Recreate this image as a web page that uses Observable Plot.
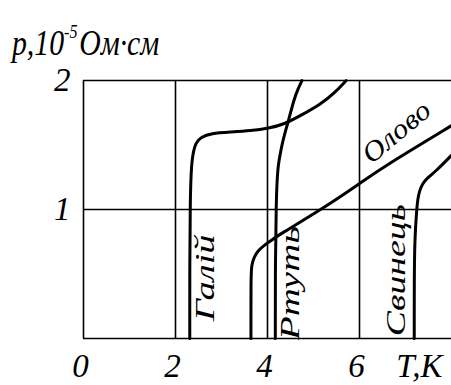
<!DOCTYPE html>
<html><head><meta charset="utf-8">
<script src="https://cdn.jsdelivr.net/npm/d3@7"></script>
<script src="https://cdn.jsdelivr.net/npm/@observablehq/plot@0.6"></script>
<style>body{margin:0;background:#fff} svg{display:block}</style>
</head><body><div id="chart"></div>
<script>
// Resistivity (10^-5 Ohm·cm) vs temperature (K)
const galliumT = [2.31, 2.31, 2.32, 2.34, 2.37, 2.44, 2.55, 2.77, 3.20, 3.64, 4.03, 4.36, 4.73, 5.17, 5.45, 5.71];
const galliumR = [0, 0.60, 1.07, 1.30, 1.42, 1.52, 1.56, 1.59, 1.60, 1.61, 1.63, 1.66, 1.73, 1.82, 1.90, 2.0];
const mercuryT = [4.17, 4.17, 4.19, 4.21, 4.23, 4.29, 4.36, 4.45, 4.58, 4.67, 4.75];
const mercuryR = [0, 0.60, 1.07, 1.23, 1.34, 1.46, 1.57, 1.68, 1.86, 1.94, 2.0];
const tinT = [3.64, 3.64, 3.65, 3.71, 3.79, 3.92, 4.08, 4.23, 5.17, 6.00, 6.47, 8.0];
const tinR = [0, 0.45, 0.57, 0.63, 0.68, 0.72, 0.76, 0.80, 1.00, 1.20, 1.32, 1.65];
const leadT = [7.19, 7.19, 7.20, 7.24, 7.27, 7.31, 7.37, 7.46, 7.67, 8.0];
const leadR = [0, 0.45, 0.76, 0.99, 1.09, 1.15, 1.20, 1.24, 1.30, 1.42];

const seriesNames = ["Галій", "Ртуть", "Олово", "Свинець"];
const labelT = [2.64, 4.49, 6.80, 6.80];
const labelR = [0.47, 0.43, 1.60, 0.53];
const labelAngle = [-90, -90, -40, -90];
const labelLength = [87, 114, 80, 132];

const xTicks = [0, 2, 4, 6];
const yTicks = [1, 2];
const gridX = [0, 2, 4, 6];
const gridY = [0, 1, 2];
const xAxisLabel = "T,K";
const xAxisLabelT = 7.3;
const titleMain = "p,10";
const titleSup = "-5";
const titleUnit = "Ом·см";

const seriesT = [galliumT, mercuryT, tinT, leadT];
const seriesR = [galliumR, mercuryR, tinR, leadR];
const rows = seriesNames.flatMap((name, k) => seriesT[k].map((t, i) => ({name, T: t, R: seriesR[k][i]})));
const labelRows = seriesNames.map((name, k) => ({name, T: labelT[k], R: labelR[k], angle: labelAngle[k]}));

const font = "'Liberation Serif', 'Times New Roman', serif";
const plot = Plot.plot({
  width: 451, height: 385,
  marginLeft: 83, marginRight: 0, marginTop: 80, marginBottom: 47,
  x: {domain: [0, 8]},
  y: {domain: [0, 2]},
  style: {fontFamily: font, fontStyle: "italic", background: "white", color: "black"},
  marks: [
    Plot.ruleX(gridX, {stroke: "black", strokeWidth: 1.6}),
    Plot.ruleY(gridY, {stroke: "black", strokeWidth: 1.6}),
    Plot.line(rows, {x: "T", y: "R", z: "name", curve: "basis", stroke: "black", strokeWidth: 3}),
    Plot.text(labelRows, {x: "T", y: "R", text: "name", rotate: "angle", fontSize: 28, fill: "black", textAnchor: "middle", lineAnchor: "middle"}),
    Plot.axisX({ticks: xTicks, tickSize: 0, tickPadding: 15, fontSize: 33, dx: -3, label: null, tickFormat: d => String(d)}),
    Plot.axisY({ticks: yTicks, tickSize: 0, tickPadding: 13, fontSize: 33, label: null, tickFormat: d => String(d)}),
    Plot.text([xAxisLabel], {x: xAxisLabelT, y: 0, text: d => d, dy: 28, fontSize: 33, lineAnchor: "middle", fill: "black"})
  ]
});

const svg = d3.select(plot);
// stretch curve labels along their baseline as in the reference
svg.selectAll("text").filter(function() { return seriesNames.includes(this.textContent); })
  .each(function() {
    const k = seriesNames.indexOf(this.textContent);
    d3.select(this).attr("textLength", labelLength[k]).attr("lengthAdjust", "spacingAndGlyphs");
  });

const t = svg.append("g").attr("transform", "translate(12,55) scale(0.85,1)")
  .append("text").attr("font-size", 35)
  .attr("text-anchor", "start")
  .attr("font-family", font).attr("font-style", "italic").attr("fill", "black");
t.append("tspan").text(titleMain);
t.append("tspan").attr("font-size", 19).attr("dy", -17).text(titleSup);
t.append("tspan").attr("dy", 17).attr("dx", 2).text(titleUnit);

document.getElementById("chart").appendChild(plot);
</script>
</body></html>
